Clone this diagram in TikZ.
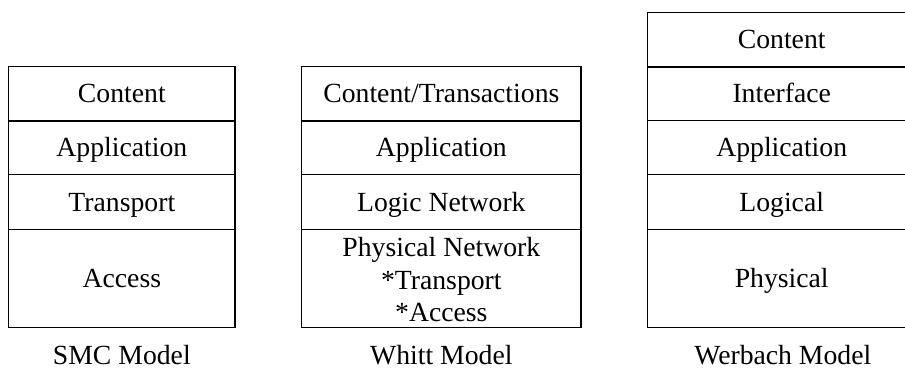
\documentclass[tikz,border=0pt]{standalone}
\usepackage{fontspec}
\setmainfont{Liberation Serif}
\begin{document}
\begin{tikzpicture}[x=1pt,y=1pt,
  layer/.style={draw=black, line width=1.3pt, rectangle, inner sep=0pt,
    text height=18.3pt, text depth=0pt,
    font=\fontsize{27.7}{32.5}\selectfont},
  caption/.style={anchor=base, inner sep=0pt, font=\fontsize{27.7}{32.5}\selectfont}]
\useasboundingbox (0,0) rectangle (905,369);

% SMC model
\begin{scope}[layer/.append style={minimum width=226.3pt}]
  \node[layer, minimum height=54.7pt] (smc1) at (121.85,275.15) {Content};
  \node[layer, minimum height=54pt]   (smc2) at (121.85,221.3)  {Application};
  \node[layer, minimum height=54.6pt] (smc3) at (121.85,167)    {Transport};
  \node[layer, minimum height=98.4pt] (smc4) at (121.85,90.5)   {Access};
\end{scope}
\node[caption] (smccap) at (121.85,4) {SMC Model};

% Whitt model
\begin{scope}[layer/.append style={minimum width=279.3pt}]
  \node[layer, minimum height=54.7pt] (wh1) at (441.35,275.15) {Content/Transactions};
  \node[layer, minimum height=54pt]   (wh2) at (441.35,221.3)  {Application};
  \node[layer, minimum height=54.6pt] (wh3) at (441.35,167)    {Logic Network};
  \node[layer, minimum height=98.4pt] (wh4) at (441.35,90.5)   {};
\end{scope}
\node[caption, align=center] (wh4text) at (441.35,47.3)
  {Physical Network\\*Transport\\*Access};
\node[caption] (whcap) at (441.35,4) {Whitt Model};

% Werbach model
\begin{scope}[layer/.append style={minimum width=268.8pt}]
  \node[layer, minimum height=54.7pt] (wb0) at (781.7,329.35) {Content};
  \node[layer, minimum height=53.7pt] (wb1) at (781.7,275.15) {Interface};
  \node[layer, minimum height=54pt]   (wb2) at (781.7,221.3)  {Application};
  \node[layer, minimum height=54.6pt] (wb3) at (781.7,167)    {Logical};
  \node[layer, minimum height=98.4pt] (wb4) at (781.7,90.5)   {Physical};
\end{scope}
\node[caption] (wbcap) at (782.8,4) {Werbach Model};
\end{tikzpicture}
\end{document}
